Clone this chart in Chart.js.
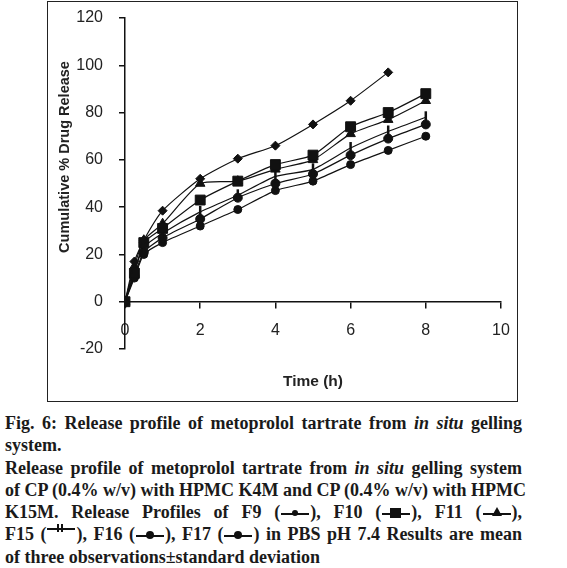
<!DOCTYPE html>
<html>
<head>
<meta charset="utf-8">
<script src="https://cdn.jsdelivr.net/npm/chart.js@4"></script>
<style>
  body { margin: 0; background: #fff; width: 567px; height: 568px; position: relative; overflow: hidden; }
  #frame { position: absolute; left: 47px; top: 1px; width: 469px; height: 399px; border: 1.5px solid #222; }
  #wrap { position: absolute; left: 0; top: 0; width: 567px; height: 405px; }
  #cap { position: absolute; left: 5px; top: 412px; width: 517px; font: bold 18px "Liberation Serif", serif; line-height: 22.3px; color: #1a1a1a; }
  #cap div { white-space: nowrap; }
  #cap .j { text-align: justify; text-align-last: justify; }
  .g { display: inline-block; width: 28px; height: 2px; background: #111; vertical-align: middle; position: relative; margin: 0 1px; }
  .g i { position: absolute; left: 10px; top: -4px; width: 8px; height: 8px; background: #111; }
  .g i.c { border-radius: 50%; }
  .g i.t { width: 0; height: 0; background: none; border-left: 5px solid transparent; border-right: 5px solid transparent; border-bottom: 9px solid #111; top: -6px; left: 9px; }
  .g i.s { left: 8px; top: -5px; width: 11px; height: 10px; }
  .g.up { vertical-align: 0.6em; }
  .g i.v { left: 10px; top: -4px; width: 2px; height: 8px; box-shadow: 4px 0 0 #111; background: #111; }
</style>
</head>
<body>
<div id="wrap"><canvas id="chart"></canvas></div>
<div id="frame"></div>
<div id="cap">
  <div class="j">Fig. 6: Release profile of metoprolol tartrate from <i>in situ</i> gelling</div>
  <div>system.</div>
  <div class="j">Release profile of metoprolol tartrate from <i>in situ</i> gelling system</div>
  <div class="j">of CP (0.4% w/v) with HPMC K4M and CP (0.4% w/v) with HPMC</div>
  <div class="j">K15M. Release Profiles of F9 (<span class="g"><i class="c" style="width:6px;height:6px;top:-3px;left:11px"></i></span>), F10 (<span class="g"><i class="s"></i></span>), F11 (<span class="g"><i class="t"></i></span>),</div>
  <div class="j">F15 (<span class="g up"><i class="v"></i></span>), F16 (<span class="g"><i class="c"></i></span>), F17 (<span class="g"><i class="c"></i></span>) in PBS pH 7.4 Results are mean</div>
  <div>of three observations±standard deviation</div>
</div>
<script>
// sampling times (h)
const times = [0, 0.25, 0.5, 1, 2, 3, 4, 5, 6, 7, 8];

// cumulative % drug release
const f9  = [0, 17, 26, 38.5, 52, 60.5, 66, 75, 85, 97];
const f10 = [0, 12, 25, 31, 43, 51, 58, 62, 74, 80, 88];
const f11 = [0, 15, 26, 33, 50, 51, 56, 60, 71, 77, 85];
const f15 = [0, 13, 23, 29, 38, 45, 53, 56, 65, 72, 78];
const f16 = [0, 11, 21, 27, 35, 44, 50, 54, 62, 69, 75];
const f17 = [0, 10, 20, 25, 32, 39, 47, 51, 58, 64, 70];

const xTicks = [0, 2, 4, 6, 8, 10];
const yTicks = [-20, 0, 20, 40, 60, 80, 100, 120];

const ink = '#111';
const tickFont = { family: '"Liberation Sans", Arial, sans-serif', size: 16 };

function pts(arr) {
    return arr.map((v, i) => ({ x: times[i], y: v }));
}

function series(label, arr, style, r) {
    return {
        label: label,
        data: pts(arr),
        borderColor: ink,
        backgroundColor: ink,
        borderWidth: 1.2,
        pointStyle: style,
        pointRadius: r,
        pointBorderWidth: style === 'line' ? 2.5 : 1,
        pointRotation: style === 'line' ? 90 : 0,
        tension: 0.2
    };
}

// no extra label padding, so the plot box sits where the layout padding says
function noPad(s) {
    s.paddingTop = 0;
    s.paddingBottom = 0;
    s.paddingLeft = 0;
    s.paddingRight = 0;
}

const yTitle = {
    id: 'yTitle',
    afterDraw(c) {
        const g = c.ctx;
        g.save();
        g.translate(65, 157);
        g.rotate(-Math.PI / 2);
        g.font = 'bold 14.5px "Liberation Sans", Arial, sans-serif';
        g.textAlign = 'center';
        g.textBaseline = 'middle';
        g.fillStyle = '#222';
        g.fillText('Cumulative % Drug Release', 0, 0);
        g.restore();
    }
};

new Chart(document.getElementById('chart'), {
    type: 'line',
    data: {
        datasets: [
            series('F9', f9, 'rectRot', 4.5),
            series('F10', f10, 'rect', 7),
            series('F11', f11, 'triangle', 5.5),
            series('F15', f15, 'line', 6),
            series('F16', f16, 'circle', 4.5),
            series('F17', f17, 'circle', 4)
        ]
    },
    options: {
        responsive: true,
        maintainAspectRatio: false,
        animation: false,
        layout: { padding: { left: 0, top: 18, right: 66, bottom: 56 } },
        plugins: { legend: { display: false }, tooltip: { enabled: false } },
        scales: {
            x: {
                type: 'linear',
                position: { y: 0 },
                min: 0,
                max: 10,
                afterBuildTicks: s => { s.ticks = xTicks.map(v => ({ value: v })); },
                afterFit: noPad,
                ticks: { color: '#222', font: tickFont, padding: 13, maxRotation: 0 },
                grid: { drawOnChartArea: false, drawTicks: true, tickLength: 6, color: ink, lineWidth: 1.5 },
                border: { display: true, color: ink, width: 1.5 },
                title: { display: true, text: 'Time (h)', color: '#222', font: { family: '"Liberation Sans", Arial, sans-serif', size: 15.5, weight: 'bold' }, padding: { top: 20, bottom: 0 } }
            },
            y: {
                position: 'left',
                min: -20,
                max: 120,
                afterBuildTicks: s => { s.ticks = yTicks.map(v => ({ value: v })); },
                afterFit: s => { s.width = 125; noPad(s); },
                ticks: { color: '#222', font: tickFont, padding: 16 },
                grid: { drawOnChartArea: false, drawTicks: true, tickLength: 6, color: ink, lineWidth: 1.5 },
                border: { display: true, color: ink, width: 1.5 }
            }
        }
    },
    plugins: [yTitle]
});
</script>
</body>
</html>
